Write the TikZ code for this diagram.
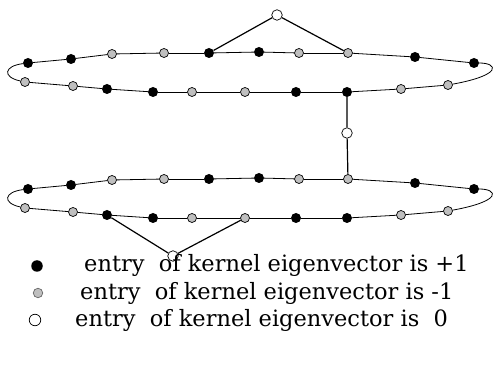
\documentclass[tikz,border=0pt]{standalone}
\usepackage{fontspec}
\setmainfont{DejaVu Serif}
\begin{document}
\begin{tikzpicture}[x=1pt,y=-1pt,
		plusdot/.style={circle,fill=black,inner sep=0pt,minimum size=10pt},
		minusdot/.style={circle,draw=black,line width=0.7pt,fill=black!25,inner sep=0pt,minimum size=9pt},
		zerodot/.style={circle,draw=black,line width=0.7pt,fill=white,inner sep=0pt,minimum size=10.5pt},
		ring/.style={line width=0.8pt},
		link/.style={line width=1.2pt},
		keytext/.style={anchor=west,inner sep=0pt,font=\fontsize{22.5}{26}\selectfont}]
			\useasboundingbox (0,0) rectangle (493,374);
			
			\foreach \rg/\dy in {A/0,B/126}{
				\foreach \i/\x/\y/\s in {1/28/63/plusdot,2/71/59/plusdot,3/112/54/minusdot,4/164/53/minusdot,5/209/53/plusdot,
					6/259/52/plusdot,7/299/53/minusdot,8/348/53/minusdot,9/415/57/plusdot,10/474/63/plusdot}
					\node[\s] (\rg-t\i) at (\x,\y+\dy) {};
				\foreach \i/\x/\y/\s in {1/25/82/minusdot,2/73/86/minusdot,3/107/89/plusdot,4/153/92/plusdot,5/192/92/minusdot,
					6/245/92/minusdot,7/296/92/plusdot,8/347/92/plusdot,9/401/89/minusdot,10/448/85/minusdot}
					\node[\s] (\rg-u\i) at (\x,\y+\dy) {};
				\foreach \i [count=\j from 2] in {1,...,9}{
					\draw[ring] (\rg-t\i) -- (\rg-t\j);
					\draw[ring] (\rg-u\i) -- (\rg-u\j);
				}
				\draw[ring] (\rg-t10) .. controls +(24,0) and +(55,-10) .. (\rg-u10);
				\draw[ring] (\rg-u1) .. controls +(-23,-5) and +(-24,3) .. (\rg-t1);
			}
			
			\node[zerodot] (top0) at (277,15) {};
			\node[zerodot] (mid0) at (347,133) {};
			\node[zerodot] (bot0) at (173,256) {};
			\draw[link] (A-t5) -- (top0) -- (A-t8);
			\draw[link] (A-u8) -- (mid0) -- (B-t8);
			\draw[link] (B-u3) -- (bot0) -- (B-u6);
			
			\node[plusdot,minimum size=11.5pt] (key1) at (37,266) {};
			\node[minusdot,draw=black!60,minimum size=9.5pt] (key2) at (38,293) {};
			\node[zerodot,minimum size=11.5pt] (key3) at (35,320) {};
			\node[keytext] (text1) at (84,265) {entry\ \ of kernel eigenvector is +1};
			\node[keytext] (text2) at (80,293) {entry\ \ of kernel eigenvector is -1};
			\node[keytext] (text3) at (75,320) {entry\ \ of kernel eigenvector is\ \ 0};
		\end{tikzpicture}
\end{document}
